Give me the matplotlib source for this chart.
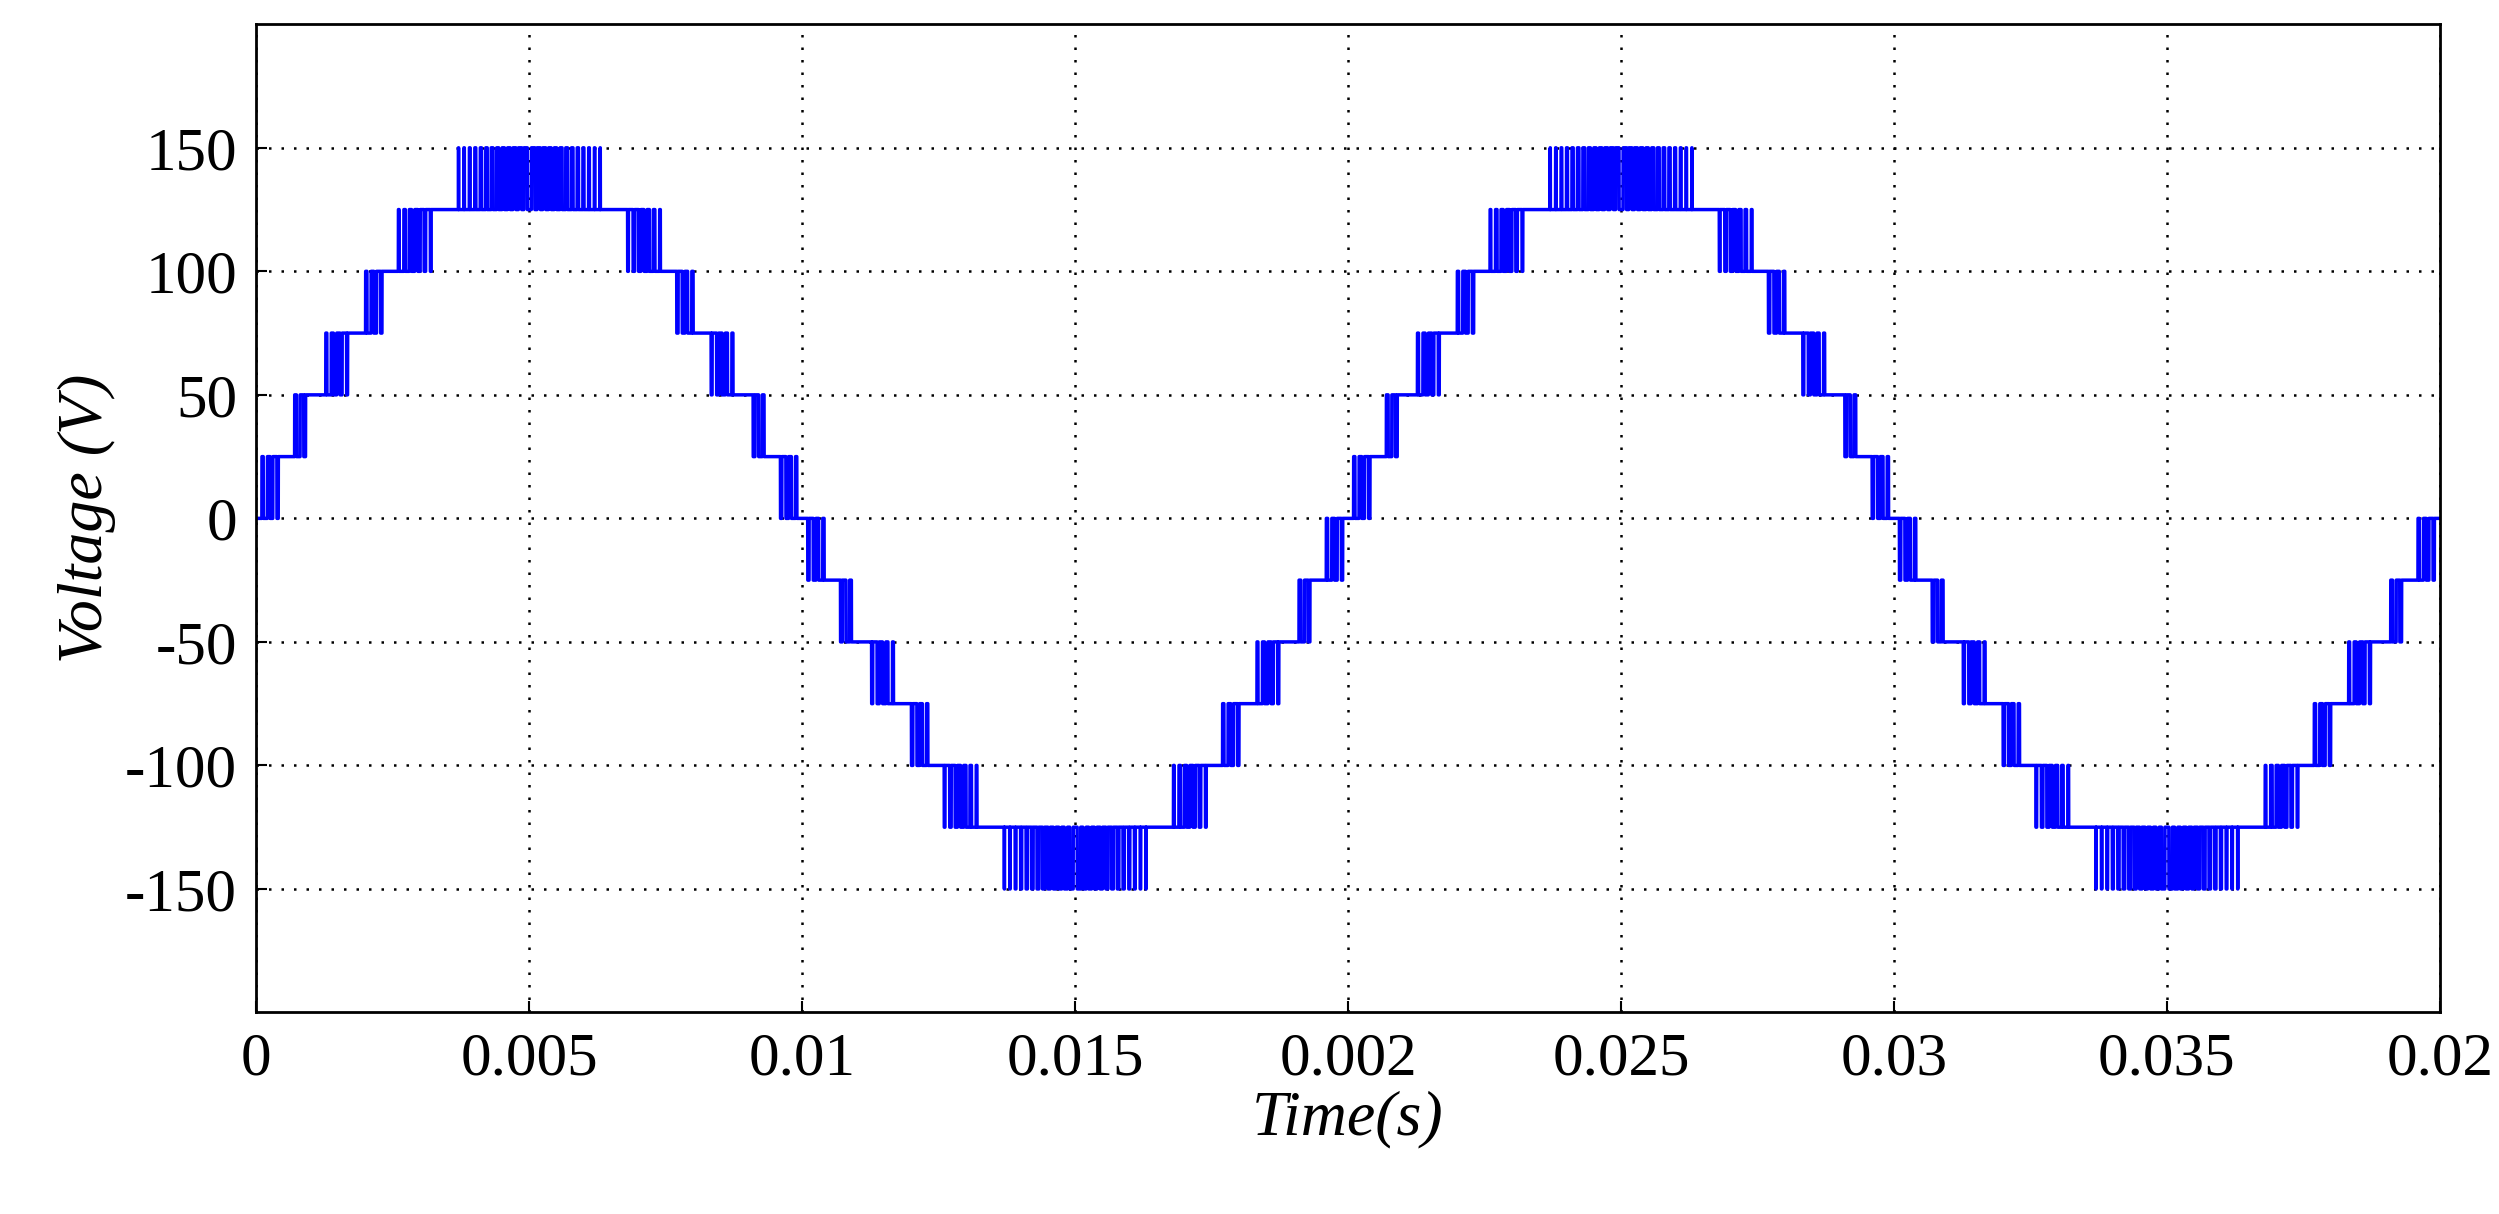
import numpy as np
import matplotlib
matplotlib.use("Agg")
import matplotlib.pyplot as plt

# Step levels (V) and switching bands (s), first quarter period
levels = [0, 25, 50, 75, 100, 125, 150]
band_start = [0.0000, 0.00060, 0.00117, 0.00190, 0.00250, 0.00360]
band_end   = [0.00050, 0.00100, 0.00176, 0.00240, 0.00330, 0.00500]
peak_duty = 0.65
pulse_period = 0.0001
period = 0.02
n_periods = 2
xticks = [0, 0.005, 0.01, 0.015, 0.02, 0.025, 0.03, 0.035, 0.04]
xticklabels = ["0", "0.005", "0.01", "0.015", "0.002", "0.025", "0.03", "0.035", "0.02"]
yticks = [-150, -100, -50, 0, 50, 100, 150]

def quarter_value(tq):
    v = 0.0
    for i, (a, b) in enumerate(zip(band_start, band_end)):
        lo, hi = levels[i], levels[i + 1]
        if tq >= b:
            v = hi
            if i == len(band_start) - 1:
                v = lo
        elif tq >= a:
            dmax = peak_duty if i == len(band_start) - 1 else 1.0
            duty = dmax * (tq - a) / (b - a)
            ph = ((tq - a) % pulse_period) / pulse_period
            v = hi if ph < duty else lo
            break
        else:
            break
    return v

t = np.linspace(0, period * n_periods, 160001)
y = np.empty_like(t)
for k, tt in enumerate(t):
    tc = tt % period
    h = period / 2
    sign = 1 if tc < h else -1
    th = tc % h
    tq = th if th <= h / 2 else h - th
    y[k] = sign * quarter_value(tq)

plt.rcParams['font.family'] = ['Liberation Serif', 'DejaVu Serif']
plt.rcParams['axes.unicode_minus'] = False
fig = plt.figure(figsize=(24.99, 12.14), dpi=100)
ax = fig.add_axes([0.1026, 0.166, 0.8737, 0.814])
ax.plot(t, y, color='#0000ff', lw=2.5)
ax.set_xlim(0, 0.04)
ax.set_ylim(-200, 200)
ax.set_xticks(xticks)
ax.set_xticklabels(xticklabels)
ax.set_yticks(yticks)
ax.grid(True, color='black', linestyle=(0, (1, 4)), lw=1.8)
ax.tick_params(labelsize=44, direction='in', length=8, width=1.5, pad=14)
for s in ax.spines.values():
    s.set_linewidth(2)
ax.set_xlabel('Time(s)', fontsize=46, style='italic', labelpad=2)
ax.set_ylabel('Voltage (V)', fontsize=46, style='italic', labelpad=6)
fig.savefig('out.png', dpi=100)
